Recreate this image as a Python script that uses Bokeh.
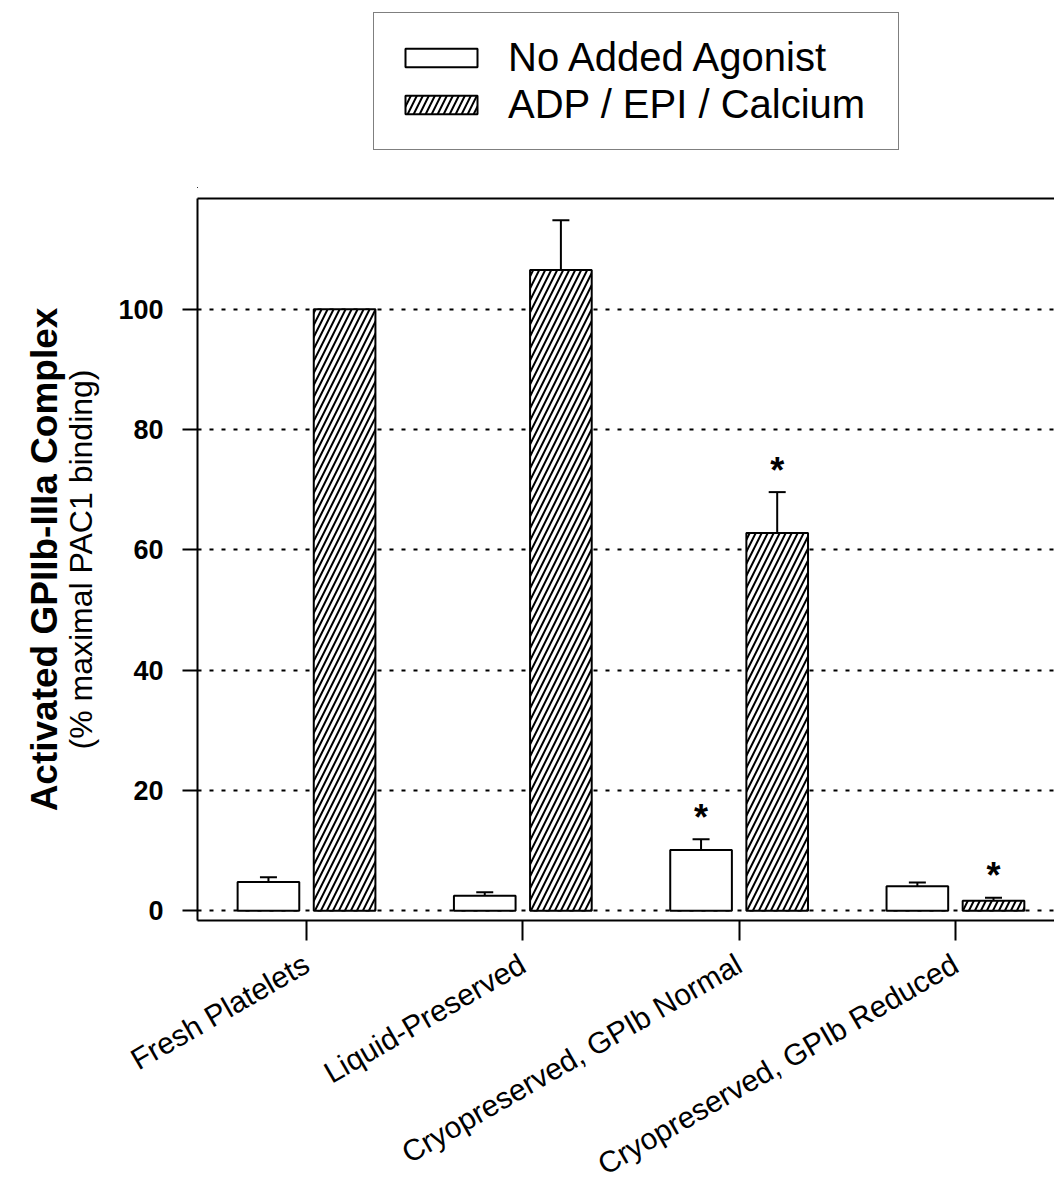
import math
from bokeh.plotting import figure
from bokeh.layouts import column
from bokeh.models import (ColumnDataSource, Range1d, FixedTicker, LinearAxis,
                          Legend, LegendItem, Whisker, TeeHead)
from bokeh.core.properties import value
from bokeh.embed import file_html
from bokeh.resources import INLINE

# ---------------- data ----------------
categories = ["Fresh Platelets", "Liquid-Preserved",
              "Cryopreserved, GPIb Normal", "Cryopreserved, GPIb Reduced"]
series_names = ["No Added Agonist", "ADP / EPI / Calcium"]
no_agonist = [4.8, 2.5, 10.1, 4.1]
no_agonist_sem = [0.8, 0.6, 1.8, 0.6]
agonist = [100.0, 106.5, 62.8, 1.7]
agonist_sem = [0.0, 8.3, 6.8, 0.5]
no_agonist_sig = [False, False, True, False]
agonist_sig = [False, False, True, True]
y_ticks = [0, 20, 40, 60, 80, 100]
y_title = "Activated GPIIb-IIIa Complex"
y_subtitle = "(% maximal PAC1 binding)"

FONT = "Liberation Sans"
OFF = 0.176
BAR_W = 0.285

idx = list(range(len(categories)))

WHITE_STYLE = dict(fill_color="white", line_color="black", line_width=2)
HATCH_STYLE = dict(fill_color="white", line_color="black", line_width=2,
                   hatch_pattern="/", hatch_color="black", hatch_scale=12, hatch_weight=2)


def series_source(vals, sems, sig, off):
    xs = [i + off for i in idx]
    upper = [v + e for v, e in zip(vals, sems)]
    return (ColumnDataSource(dict(x=xs, top=vals)),
            ColumnDataSource(dict(x=[x for x, e in zip(xs, sems) if e > 0],
                                  lower=[v for v, e in zip(vals, sems) if e > 0],
                                  upper=[u for u, e in zip(upper, sems) if e > 0])),
            ColumnDataSource(dict(x=[x for x, s in zip(xs, sig) if s],
                                  y=[u for u, s in zip(upper, sig) if s],
                                  t=["*" for s in sig if s])))


src_a, err_a, star_a = series_source(no_agonist, no_agonist_sem, no_agonist_sig, -OFF)
src_b, err_b, star_b = series_source(agonist, agonist_sem, agonist_sig, OFF)

# ---------------- legend strip (own small figure above the chart) ----------------
# its ranges are far from the data, so the bars it holds are only used by the legend
lg = figure(width=1054, height=188, output_backend="svg", toolbar_location=None,
            x_range=Range1d(100, 101), y_range=Range1d(1000, 1001),
            min_border=0, min_border_left=0, min_border_right=0,
            min_border_top=0, min_border_bottom=0)
lg.axis.visible = False
lg.grid.visible = False
lg.outline_line_color = None
lr_a = lg.vbar(x="x", top="top", bottom=0, width=BAR_W, source=src_a, **WHITE_STYLE)
lr_b = lg.vbar(x="x", top="top", bottom=0, width=BAR_W, source=src_b, **HATCH_STYLE)
legend = Legend(items=[LegendItem(label=series_names[0], renderers=[lr_a]),
                       LegendItem(label=series_names[1], renderers=[lr_b])],
                location=(176, 38), orientation="vertical",
                glyph_width=90, glyph_height=23, label_standoff=22,
                label_text_font=FONT, label_text_font_size="40px",
                label_text_color="black", label_width=368,
                padding=22, spacing=2, margin=0,
                border_line_color="black", border_line_width=1.5,
                background_fill_color="white", background_fill_alpha=1.0)
lg.add_layout(legend, "center")

# ---------------- main chart ----------------
p = figure(width=1054, height=1011, output_backend="svg", toolbar_location=None,
           x_range=Range1d(-0.504, 3.458), y_range=Range1d(-1.6, 118.4),
           min_border_left=197, min_border_right=0, min_border_top=10,
           min_border_bottom=279)
p.outline_line_color = None
p.background_fill_color = "white"

p.xgrid.visible = False
p.ygrid.ticker = FixedTicker(ticks=y_ticks)
p.ygrid.grid_line_color = "black"
p.ygrid.grid_line_dash = "4 8"
p.ygrid.grid_line_width = 2

p.vbar(x="x", top="top", bottom=0, width=BAR_W, source=src_a, **WHITE_STYLE)
p.vbar(x="x", top="top", bottom=0, width=BAR_W, source=src_b, **HATCH_STYLE)

for es in (err_a, err_b):
    w = Whisker(base="x", lower="lower", upper="upper", source=es, dimension="height",
                line_color="black", line_width=2, lower_head=None,
                upper_head=TeeHead(size=17, line_color="black", line_width=2))
    p.add_layout(w)

for ss in (star_a, star_b):
    p.text(x="x", y="y", text="t", source=ss, text_align="center", text_baseline="middle",
           y_offset=-22, text_font=value(FONT), text_font_style="bold",
           text_font_size="36px", text_color="black")

xa = p.xaxis[0]
xa.ticker = FixedTicker(ticks=idx)
xa.major_label_overrides = {i: c for i, c in zip(idx, categories)}
xa.major_label_orientation = math.pi / 6
xa.major_label_text_font = FONT
xa.major_label_text_font_size = "30px"
xa.major_label_text_line_height = 0.8
xa.major_label_text_color = "black"
xa.major_tick_out = 20
xa.major_tick_in = 0
xa.minor_tick_line_color = None
xa.axis_line_width = 2
xa.major_tick_line_width = 2
xa.major_label_standoff = 21

ya = p.yaxis[0]
ya.ticker = FixedTicker(ticks=y_ticks)
ya.major_label_text_font = FONT
ya.major_label_text_font_style = "bold"
ya.major_label_text_font_size = "27px"
ya.major_label_text_color = "black"
ya.major_tick_out = 15
ya.major_tick_in = 0
ya.minor_tick_line_color = None
ya.axis_line_width = 2
ya.major_tick_line_width = 2
ya.major_label_standoff = 19
ya.axis_label = y_subtitle
ya.axis_label_text_font = FONT
ya.axis_label_text_font_style = "normal"
ya.axis_label_text_font_size = "32px"
ya.axis_label_text_color = "black"
ya.axis_label_standoff = 16

yb = LinearAxis(ticker=FixedTicker(ticks=[]), axis_line_color=None,
                major_tick_line_color=None, minor_tick_line_color=None,
                major_label_text_font_size="0px",
                axis_label=y_title, axis_label_text_font=FONT,
                axis_label_text_font_style="bold", axis_label_text_font_size="37px",
                axis_label_text_color="black", axis_label_standoff=-4)
p.add_layout(yb, "left")

top_ax = LinearAxis(ticker=FixedTicker(ticks=[]), axis_line_width=2,
                    major_tick_line_color=None, minor_tick_line_color=None,
                    major_tick_out=0, minor_tick_out=0,
                    major_label_text_font_size="0px")
p.add_layout(top_ax, "above")

page = column(lg, p, spacing=0)
open("out.html", "w").write(file_html(page, INLINE))
